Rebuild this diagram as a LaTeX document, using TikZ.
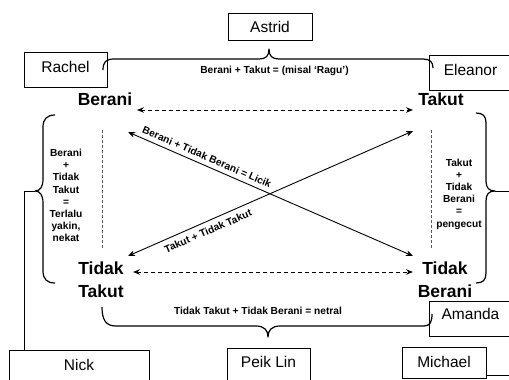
\documentclass[tikz,border=0pt]{standalone}
\usepackage{fontspec}
\setmainfont{Liberation Sans}
\usetikzlibrary{arrows.meta,calc}
\begin{document}
\begin{tikzpicture}[x=1pt,y=-1pt,
  box/.style={draw, line width=0.9pt, inner sep=0pt, font=\fontsize{15.5}{18}\selectfont, anchor=base},
  big/.style={font=\bfseries\fontsize{17.5}{23}\selectfont, inner sep=0pt, align=center},
  small/.style={font=\bfseries\fontsize{10.2}{12.2}\selectfont, inner sep=0pt, align=center},
  brace/.style={line width=1.2pt, line join=round},
  link/.style={line width=1pt},
  dbl/.style={line width=0.9pt, {Stealth[length=7pt,width=5.5pt]}-{Stealth[length=7pt,width=5.5pt]}},
  dsh/.style={dash pattern=on 4pt off 3pt},
  vdash/.style={line width=0.8pt, black!65, dash pattern=on 3pt off 2pt}
]
\useasboundingbox (0,0) rectangle (509,380);

% boxes with names
\node[box, minimum width=84pt, text height=19pt, text depth=8pt] (astrid) at (270,32) {Astrid};
\node[box, minimum width=83pt, text height=20pt, text depth=15pt] (rachel) at (65.5,72) {Rachel};
\node[box, minimum width=83pt, text height=20pt, text depth=15pt] (eleanor) at (470.5,75) {Eleanor};
\node[box, minimum width=83pt, text height=18pt, text depth=17pt] (amanda) at (470.5,319) {Amanda};
\node[box, minimum width=84pt, text height=20pt, text depth=11pt] (michael) at (444,367) {Michael};
\node[box, minimum width=140pt, text height=20pt, text depth=25pt] (nick) at (79,370) {Nick};
\node[box, minimum width=83pt, text height=19.5pt, text depth=25pt] (peik) at (268.5,367.5) {Peik Lin};

% big labels
\node[big] (berani) at (105,99) {Berani};
\node[big] (takut) at (441,99) {Takut};
\node[big] (tt) at (101,280) {Tidak\\Takut};
\node[big] (tb) at (445,280) {Tidak\\Berani};

% small labels
\node[small] (lbltop) at (274.5,71) {Berani + Takut = (misal ‘Ragu’)};
\node[small] (lblbot) at (258,311) {Tidak Takut + Tidak Berani = netral};
\node[small] (lblleft) at (66,195.5) {Berani\\+\\Tidak\\Takut\\=\\Terlalu\\yakin,\\nekat};
\node[small] (lblright) at (459,194) {Takut\\+\\Tidak\\Berani\\=\\pengecut};
\node[small, rotate=-23.5] (lbllicik) at (207,157) {Berani + Tidak Berani = Licik};
\node[small, rotate=23.5] (lbltt) at (208,231) {Takut + Tidak Takut};

% arrow end points, relative to the nodes
\coordinate (bA) at ($(berani)+(32,11)$);
\coordinate (kA) at ($(takut)+(-28,11)$);
\coordinate (bD) at ($(berani)+(23,33)$);
\coordinate (kD) at ($(takut)+(-28,32)$);
\coordinate (ttA) at ($(tt)+(32,-8)$);
\coordinate (tbA) at ($(tb)+(-32,-8)$);
\coordinate (ttD) at ($(tt)+(27,-24)$);
\coordinate (tbD) at ($(tb)+(-32,-24)$);

\draw[dbl, dsh] (bA) -- (kA);
\draw[dbl, dsh] (ttA) -- (tbA);
\draw[dbl] (bD) -- (tbD);
\draw[dbl] (ttD) -- (kD);

% vertical dashed lines
\coordinate (vl1) at (102,130); \coordinate (vl2) at (102,248);
\coordinate (vr1) at (431,130); \coordinate (vr2) at (431,248);
\draw[vdash] (vl1) -- (vl2);
\draw[vdash] (vr1) -- (vr2);

% braces
\draw[brace] (103,70) .. controls (103,62) and (106,59) .. (114,59) -- (259,59)
  .. controls (266,59) and (269,56) .. (269,49)
  .. controls (269,56) and (272,59) .. (279,59) -- (423,59)
  .. controls (430,59) and (433,62) .. (433,68);

\draw[brace] (55,115) .. controls (47,115) and (43,119) .. (43,127) -- (43,179)
  .. controls (43,187) and (40,191) .. (35,191)
  .. controls (40,191) and (43,195) .. (43,203) -- (43,271)
  .. controls (43,279) and (47,283) .. (55,283);
\coordinate (lbtip) at (35,191);

\draw[brace] (476,113) .. controls (483,113) and (486,116) .. (486,123) -- (486,181)
  .. controls (486,188) and (489,191) .. (495,191)
  .. controls (489,191) and (486,194) .. (486,201) -- (486,273)
  .. controls (486,280) and (483,283) .. (476,283);
\coordinate (rbtip) at (495,191);
\coordinate (rbout) at (512,191);

\draw[brace] (102,307) .. controls (102,320) and (106,326) .. (116,326) -- (256,326)
  .. controls (264,326) and (268,330) .. (268,337)
  .. controls (268,330) and (272,326) .. (280,326) -- (424,326)
  .. controls (430,326) and (432,322) .. (432,314);

% connectors
\draw[link] (lbtip) -| ($(nick.north west)+(16,0)$);
\draw[link] (rbtip) -- (rbout);
\coordinate (mout) at ($(michael.south east)+(26,-3)$);
\draw[link] ($(michael.south east)+(0,-3)$) -- (mout);
\end{tikzpicture}
\end{document}
